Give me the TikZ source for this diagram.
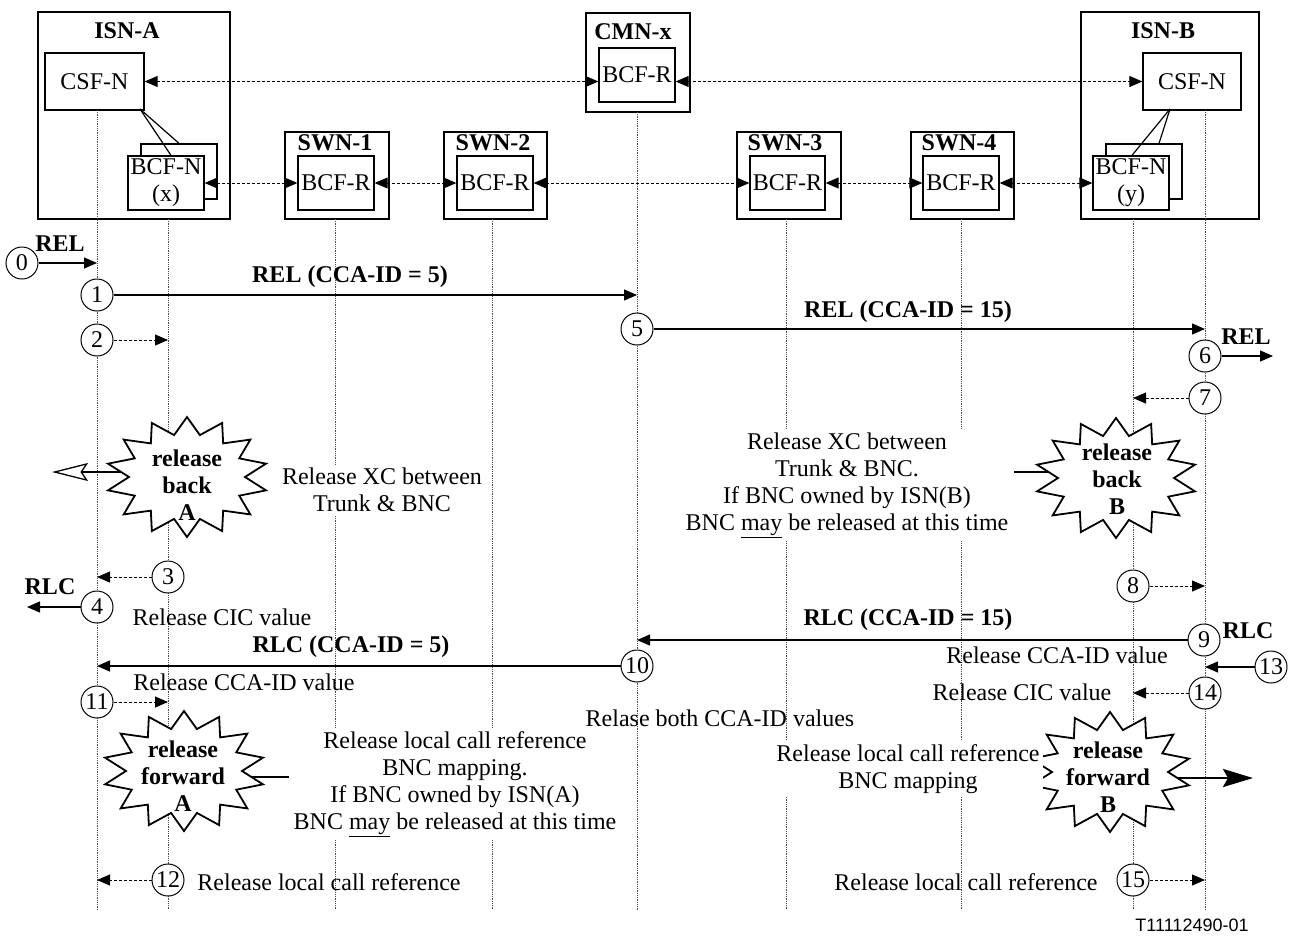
\documentclass[tikz,border=0pt]{standalone}
\usepackage{fontspec}
\setmainfont{Liberation Serif}
\setsansfont{Liberation Sans}
\usetikzlibrary{arrows.meta}
\tikzset{
  tx/.style={font=\fontsize{24}{27}\selectfont, inner sep=0pt},
  bt/.style={font=\fontsize{24}{27}\selectfont\bfseries, inner sep=0pt},
  blk/.style={tx, align=center, fill=white, inner sep=3pt},
  obox/.style={draw, line width=1.3pt, inner sep=0pt},
  ibox/.style={draw, line width=1.3pt, fill=white, inner sep=0pt, minimum width=76pt, minimum height=54pt, font=\fontsize{24}{27}\selectfont, align=center},
  life/.style={line width=0.8pt, densely dotted, gray!60!black},
  dbl/.style={line width=1pt, dash pattern=on 3pt off 2pt, {Triangle[length=13pt,width=11pt]}-{Triangle[length=13pt,width=11pt]}},
  msg/.style={line width=1.3pt, -{Triangle[length=13pt,width=11pt]}},
  dmsg/.style={line width=1pt, dash pattern=on 3pt off 2pt, -{Triangle[length=13pt,width=11pt]}},
  num/.style={circle, draw, line width=1pt, fill=white, minimum size=32pt, inner sep=0pt, font=\fontsize{24}{27}\selectfont},
  burstline/.style={line width=1.8pt, fill=white, line join=miter},
  fat/.style={line width=2.8pt},
  bursttext/.style={font=\fontsize{24}{27}\selectfont\bfseries, align=center, inner sep=0pt}
}
\newcommand{\mkburst}[2]{%
  \draw[burstline] plot[samples at={0,1,...,27}]
    ({#1+(81-23*mod(\x,2))*cos(\x*360/28+90)},{#2+(60-17*mod(\x,2))*sin(\x*360/28+90)}) -- cycle;}
\begin{document}
\begin{tikzpicture}[x=1pt,y=-1pt]
\useasboundingbox (0,0) rectangle (1295,938);

% ---------- ISN-A ----------
\node[obox, minimum width=192pt, minimum height=207pt] (isnA) at (134,115.5) {};
\node[bt] (isnAl) at (127,31) {ISN-A};
\node[ibox, minimum width=99pt, minimum height=57pt] (csfA) at (94.5,81.5) {CSF-N};
\node[ibox, minimum height=55pt] (bcfAb) at (179,171.5) {};
\coordinate (kA) at (140,109);
\draw[line width=1.2pt] (kA) -- (bcfAb.north);
\node[ibox] (bcfA) at (166,183) {BCF-N\\(x)};
\draw[line width=1.2pt] (kA) -- ([xshift=5pt]bcfA.north);

% ---------- CMN-x ----------
\node[obox, minimum width=104pt, minimum height=99pt] (cmn) at (638,62.5) {};
\node[bt] (cmnl) at (633,32) {CMN-x};
\node[ibox] (cmnin) at (637,75) {BCF-R};

% ---------- SWN ----------
\node[obox, minimum width=104pt, minimum height=87pt] (sw1) at (337,175.5) {};
\node[bt] (sw1l) at (335,143) {SWN-1};
\node[ibox] (sw1in) at (336,183) {BCF-R};
\node[obox, minimum width=103pt, minimum height=87pt] (sw2) at (495.5,175.5) {};
\node[bt] (sw2l) at (493,143) {SWN-2};
\node[ibox] (sw2in) at (495,183) {BCF-R};
\node[obox, minimum width=104pt, minimum height=87pt] (sw3) at (789,175.5) {};
\node[bt] (sw3l) at (785,143) {SWN-3};
\node[ibox, minimum width=75pt] (sw3in) at (787.5,183) {BCF-R};
\node[obox, minimum width=103pt, minimum height=87pt] (sw4) at (962.5,175.5) {};
\node[bt] (sw4l) at (959,143) {SWN-4};
\node[ibox] (sw4in) at (961,183) {BCF-R};

% ---------- ISN-B ----------
\node[obox, minimum width=178pt, minimum height=207pt] (isnB) at (1170,115.5) {};
\node[bt] (isnBl) at (1163,31) {ISN-B};
\node[ibox, minimum width=98pt, minimum height=57pt] (csfB) at (1192,81.5) {CSF-N};
\node[ibox, minimum height=55pt] (bcfBb) at (1144,171.5) {};
\coordinate (kB) at (1170,109);
\draw[line width=1.2pt] (kB) -- ([xshift=15pt]bcfBb.north);
\node[ibox] (bcfB) at (1131,183) {BCF-N\\(y)};
\draw[line width=1.2pt] (kB) -- ([xshift=1pt]bcfB.north);

% ---------- lifelines ----------
\coordinate (lA) at (97,110);
\coordinate (lX) at (168,219);
\coordinate (l1) at (335,219);
\coordinate (l2) at (492,219);
\coordinate (lC) at (637,112);
\coordinate (l3) at (786,219);
\coordinate (l4) at (961,219);
\coordinate (lY) at (1133,219);
\coordinate (lB) at (1205,110);
\coordinate (bot) at (0,910);
\foreach \l in {lA,lX,l1,l2,lC,l3,l4,lY,lB} \draw[life] (\l) -- (\l |- bot);

% ---------- bearer / control links ----------
\draw[dbl] (csfA.east) -- (cmnin.west |- csfA.east);
\draw[dbl] (cmnin.east |- csfB.west) -- (csfB.west);
\draw[dbl] (bcfA.east) -- (sw1in.west);
\draw[dbl] (sw1in.east) -- (sw2in.west);
\draw[dbl] (sw2in.east) -- (sw3in.west);
\draw[dbl] (sw3in.east) -- (sw4in.west);
\draw[dbl] (sw4in.east) -- (bcfB.west);

% ---------- thick arrows of the bursts ----------
\coordinate (bAs) at (128,472); \coordinate (bAt) at (52,472);
\draw[fat, -{Stealth[open, length=36pt, width=18pt, inset=6pt, line width=1.3pt]}] (bAs) -- (bAt);
\coordinate (bBs) at (1057,472); \coordinate (bBt) at (1014,472);
\draw[fat] (bBs) -- (bBt);
\coordinate (fAs) at (244,777); \coordinate (fAt) at (289,777);
\draw[fat] (fAs) -- (fAt);
\coordinate (fBs) at (1177,778); \coordinate (fBt) at (1253,778);
\draw[fat, -{Stealth[length=30pt, width=18pt, inset=5pt]}] (fBs) -- (fBt);

% ---------- bursts ----------
\mkburst{187}{477}
\node[bursttext] (sbA) at (187,485) {release\\back\\A};
\mkburst{1116}{478}
\node[bursttext] (sbB) at (1117,479) {release\\back\\B};
\mkburst{184}{771}
\node[bursttext] (sfA) at (183,776) {release\\forward\\A};
\mkburst{1110}{772}
\node[bursttext] (sfB) at (1108,777) {release\\forward\\B};

% ---------- messages ----------
\node[num] (c0) at (22,263) {0};
\draw[msg] (c0) -- (c0 -| lA);
\node[bt] (rel0) at (60,244) {REL};

\node[num] (c1) at (97,295) {1};
\draw[msg] (c1) -- (c1 -| lC);
\node[bt] (m1) at (350,277) {REL (CCA-ID = 5)};

\node[num] (c2) at (97,340) {2};
\draw[dmsg] (c2) -- (c2 -| lX);

\node[num] (c5) at (637,329) {5};
\draw[msg] (c5) -- (c5 -| lB);
\node[bt] (m5) at (908,312) {REL (CCA-ID = 15)};

\node[num] (c6) at (1205,356) {6};
\coordinate (o6) at (1273,356);
\draw[msg] (c6) -- (o6);
\node[bt] (rel6) at (1246,337) {REL};

\node[num] (c7) at (1205,398) {7};
\draw[dmsg] (c7) -- (c7 -| lY);

\node[num] (c3) at (168,577) {3};
\draw[dmsg] (c3) -- (c3 -| lA);

\node[num] (c4) at (97,607) {4};
\coordinate (o4) at (27,607);
\draw[msg] (c4) -- (o4);
\node[bt] (rlc4) at (50,587) {RLC};

\node[num] (c8) at (1133,586) {8};
\draw[dmsg] (c8) -- (c8 -| lB);

\node[num] (c9) at (1204,640) {9};
\draw[msg] (c9) -- (c9 -| lC);
\node[bt] (m9) at (908,620) {RLC (CCA-ID = 15)};
\node[bt] (rlc9) at (1248,631) {RLC};

\node[num] (c10) at (637,666) {10};
\draw[msg] (c10) -- (c10 -| lA);
\node[bt] (m10) at (351,647) {RLC (CCA-ID = 5)};

\node[num] (c13) at (1271,667) {13};
\draw[msg] (c13) -- (c13 -| lB);

\node[num] (c11) at (97,702) {11};
\draw[dmsg] (c11) -- (c11 -| lX);

\node[num] (c14) at (1205,693) {14};
\draw[dmsg] (c14) -- (c14 -| lY);

\node[num] (c12) at (168,880) {12};
\draw[dmsg] (c12) -- (c12 -| lA);

\node[num] (c15) at (1133,880) {15};
\draw[dmsg] (c15) -- (c15 -| lB);

% ---------- annotations ----------
\node[blk] (t1) at (382,490) {Release XC between\\Trunk \& BNC};
\node[blk] (t2) at (847,485) {Release XC between\\Trunk \& BNC.\\If BNC owned by ISN(B)\\BNC \underline{may} be released at this time};
\node[tx] (t3) at (222,617) {Release CIC value};
\node[tx] (t4) at (1057,655) {Release CCA-ID value};
\node[tx] (t5) at (244,682) {Release CCA-ID value};
\node[tx] (t6) at (1022,692) {Release CIC value};
\node[blk] (t8) at (455,784) {Release local call reference\\BNC mapping.\\If BNC owned by ISN(A)\\BNC \underline{may} be released at this time};
\node[tx] (t7) at (720,718) {Relase both CCA-ID values};
\node[blk] (t9) at (908,769) {Release local call reference\\BNC mapping};
\node[tx] (t10) at (329,882) {Release local call reference};
\node[tx] (t11) at (966,882) {Release local call reference};
\node[font=\sffamily\fontsize{18}{20}\selectfont, inner sep=0pt] (tag) at (1192,925) {T11112490-01};
\end{tikzpicture}
\end{document}
